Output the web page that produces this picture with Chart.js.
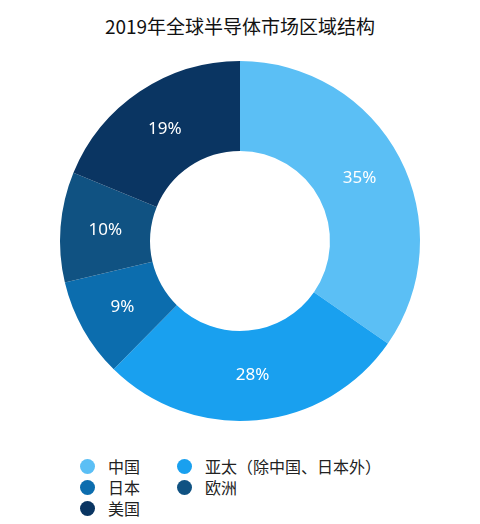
<!DOCTYPE html>
<html><head><meta charset="utf-8">
<script src="https://cdn.jsdelivr.net/npm/chart.js@4/dist/chart.umd.min.js"></script>
<style>
body{margin:0;background:#fff;font-family:"Noto Sans CJK SC","Noto Sans",sans-serif;}
#title{position:absolute;top:12px;left:0;width:480px;text-align:center;font-size:19px;color:#111;}
#wrap{position:absolute;top:56px;left:0;width:480px;height:370px;}
#legend{position:absolute;top:456px;left:80px;font-size:16px;color:#222;display:grid;grid-template-columns:97px 240px;row-gap:1px;}
.it{display:flex;align-items:center;height:20px;}
.dot{width:15px;height:15px;border-radius:50%;margin-right:13px;}
</style></head><body>
<div id="title">2019年全球半导体市场区域结构</div>
<div id="wrap"><canvas id="c"></canvas></div>
<div id="legend"></div>
<script>
const categories = ['中国','亚太（除中国、日本外）','日本','欧洲','美国'];
const shares = [35, 28, 9, 10, 19];
const colors = ['#5BBFF5','#19A0EF','#0C6DAE','#105282','#0A3562'];
// legend order as in the picture
const legendOrder = [0,1,2,3,4];

const leg = document.getElementById('legend');
legendOrder.forEach(i => {
  const d = document.createElement('div'); d.className='it';
  d.innerHTML = '<span class="dot" style="background:'+colors[i]+'"></span>'+categories[i];
  leg.appendChild(d);
});

const labelPlugin = {
  id:'lbl',
  afterDatasetsDraw(chart){
    const ctx = chart.ctx;
    chart.getDatasetMeta(0).data.forEach((arc,i)=>{
      const p = arc.getProps(['startAngle','endAngle','innerRadius','outerRadius','x','y'],true);
      const a = (p.startAngle+p.endAngle)/2, r=(p.innerRadius+p.outerRadius)/2;
      ctx.save();
      ctx.fillStyle='#fff'; ctx.font='17px "Noto Sans", sans-serif';
      ctx.textAlign='center'; ctx.textBaseline='middle';
      ctx.fillText(shares[i]+'%', p.x+Math.cos(a)*r, p.y+Math.sin(a)*r);
      ctx.restore();
    });
  }
};

new Chart(document.getElementById('c'),{
  type:'doughnut',
  data:{labels:categories,datasets:[{data:shares,backgroundColor:colors,borderWidth:0}]},
  options:{responsive:true,maintainAspectRatio:false,animation:false,cutout:'50%',
    layout:{padding:5},
    plugins:{legend:{display:false},tooltip:{enabled:false}}},
  plugins:[labelPlugin]
});
</script>
</body></html>
